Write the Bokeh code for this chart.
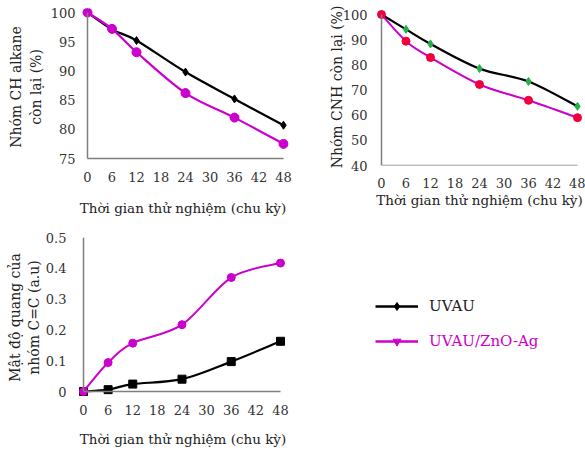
import numpy as np
from bokeh.plotting import figure
from bokeh.models import Range1d, FixedTicker, Legend, LegendItem, Arrow
from bokeh.layouts import column, row
from bokeh.embed import file_html
from bokeh.resources import INLINE

cycles = [0, 6, 12, 24, 36, 48]
x_ticks = [0, 6, 12, 18, 24, 30, 36, 42, 48]

ch_uvau = [100, 97.1, 95.2, 89.8, 85.2, 80.7]
ch_zno = [100, 97.2, 93.2, 86.2, 82.0, 77.5]
cnh_uvau = [100, 94.1, 88.3, 78.5, 73.4, 63.5]
cnh_zno = [100, 89.4, 82.9, 72.2, 65.9, 59.0]
cc_uvau = [0, 0.006, 0.024, 0.040, 0.097, 0.163]
cc_zno = [0, 0.094, 0.157, 0.217, 0.370, 0.417]

ch_ticks = [75, 80, 85, 90, 95, 100]
cnh_ticks = [40, 50, 60, 70, 80, 90, 100]
cc_ticks = [0, 0.1, 0.2, 0.3, 0.4, 0.5]
cc_tick_labels = ["0", "0.1", "0.2", "0.3", "0.4", "0.5"]

series_names = ["UVAU", "UVAU/ZnO-Ag"]
x_title = "Thời gian thử nghiệm (chu kỳ)"

FONT = "DejaVu Serif"
MAGENTA = "#CC00CC"
BLACK = "#000000"
AXIS = "#7f7f7f"

W1, W2 = 292, 293
H1, H2 = 222, 229


def smooth(x, y):
    x = np.asarray(x, float)
    y = np.asarray(y, float)
    px = np.concatenate([[x[0]], x, [x[-1]]])
    py = np.concatenate([[y[0]], y, [y[-1]]])
    s = dict(x0=[], y0=[], x1=[], y1=[], cx0=[], cy0=[], cx1=[], cy1=[])
    for i in range(len(x) - 1):
        s["x0"].append(px[i + 1]); s["y0"].append(py[i + 1])
        s["x1"].append(px[i + 2]); s["y1"].append(py[i + 2])
        s["cx0"].append(px[i + 1] + (px[i + 2] - px[i]) / 6)
        s["cy0"].append(py[i + 1] + (py[i + 2] - py[i]) / 6)
        s["cx1"].append(px[i + 2] - (px[i + 3] - px[i + 1]) / 6)
        s["cy1"].append(py[i + 2] - (py[i + 3] - py[i + 1]) / 6)
    return s


def make_fig(w, h, ax_left, ax_top, ax_w, ax_h, pads, yticks, ylabel,
             x_std, xt_std, y_std, yt_std):
    pl, pr, pt, pb = pads
    xlo, xhi = x_ticks[0], x_ticks[-1]
    ylo, yhi = yticks[0], yticks[-1]
    ux = (xhi - xlo) / ax_w
    uy = (yhi - ylo) / ax_h
    left = ax_left - pl
    top = ax_top - pt
    fw = ax_w + pl + pr
    fh = ax_h + pt + pb
    p = figure(width=w, height=h, output_backend="svg", toolbar_location=None,
               x_range=Range1d(xlo - pl * ux, xhi + pr * ux),
               y_range=Range1d(ylo - pb * uy, yhi + pt * uy),
               min_border_left=left, min_border_top=top,
               min_border_right=w - left - fw, min_border_bottom=h - top - fh)
    p.frame_width = fw
    p.frame_height = fh
    p.outline_line_color = None
    p.grid.visible = False
    p.xaxis.ticker = FixedTicker(ticks=x_ticks)
    p.yaxis.ticker = FixedTicker(ticks=yticks)
    for ax in (p.xaxis[0], p.yaxis[0]):
        ax.axis_line_color = None
        ax.major_tick_line_color = None
        ax.minor_tick_line_color = None
        ax.major_label_text_font = FONT
        ax.major_label_text_font_size = "13px"
        ax.major_label_text_color = "#333333"
        ax.axis_label_text_font = FONT
        ax.axis_label_text_font_size = "14px"
        ax.axis_label_text_font_style = "normal"
        ax.axis_label_text_color = "#222222"
    p.xaxis.axis_label_text_font_size = "13.5px"
    p.xaxis.axis_label = x_title
    p.yaxis.axis_label = ylabel
    p.xaxis.major_label_standoff = x_std
    p.xaxis.axis_label_standoff = xt_std
    p.yaxis.major_label_standoff = y_std
    p.yaxis.axis_label_standoff = yt_std
    p.add_layout(Arrow(x_start=xlo, y_start=ylo, x_end=xlo, y_end=yhi,
                       start=None, end=None, line_color=AXIS, line_width=1.5))
    p.add_layout(Arrow(x_start=xlo, y_start=ylo, x_end=xhi, y_end=ylo,
                       start=None, end=None, line_color=AXIS, line_width=1.5))
    return p


def add_series(p, y, color, lw, marker, msize, mcolor):
    s = smooth(cycles, y)
    p.bezier(x0=s["x0"], y0=s["y0"], x1=s["x1"], y1=s["y1"],
             cx0=s["cx0"], cy0=s["cy0"], cx1=s["cx1"], cy1=s["cy1"],
             line_color=color, line_width=lw)
    p.scatter(cycles, y, marker=marker, size=msize, fill_color=mcolor,
              line_color=mcolor)


# Chart 1 (CH alkane)
p1 = make_fig(W1, H1, 87, 12, 196, 146, (10, 5, 4, 7), ch_ticks,
              "Nhóm CH alkane\ncòn lại (%)",
              x_std=0, xt_std=15, y_std=-4, yt_std=4)
add_series(p1, ch_uvau, BLACK, 2.2, "diamond", 8, BLACK)
add_series(p1, ch_zno, MAGENTA, 2.2, "circle", 9, MAGENTA)

# Chart 2 (CNH)
p2 = make_fig(W2, H1, 89, 14, 196, 151, (6, 6, 6, 0), cnh_ticks,
              "Nhóm CNH còn lại (%)",
              x_std=6, xt_std=1, y_std=2, yt_std=-5)
add_series(p2, cnh_uvau, BLACK, 2.2, "diamond", 8, "#22B04B")
add_series(p2, cnh_zno, MAGENTA, 2.0, "circle", 8, "#F0003C")

# Chart 3 (C=C)
p3 = make_fig(W1, H2, 83, 15, 197, 154, (6, 8, 0, 6), cc_ticks,
              "Mật độ quang của\nnhóm C=C (a.u)",
              x_std=1, xt_std=13, y_std=5, yt_std=1)
p3.yaxis.major_label_overrides = dict(zip(cc_ticks, cc_tick_labels))
add_series(p3, cc_uvau, BLACK, 2.2, "square", 8, BLACK)
add_series(p3, cc_zno, MAGENTA, 2.0, "circle", 8, MAGENTA)

# Legend panel (its renderers lie outside the visible ranges)
p4 = figure(width=W2, height=H2, output_backend="svg", toolbar_location=None,
            x_range=Range1d(100, 101), y_range=Range1d(100, 101),
            x_axis_type=None, y_axis_type=None,
            min_border_left=83, min_border_right=2,
            min_border_top=15, min_border_bottom=54)
p4.frame_width = 208
p4.frame_height = 160
p4.outline_line_color = None
p4.grid.visible = False
l_black = p4.line(cycles, cc_uvau, line_color=BLACK, line_width=2.5)
m_black = p4.scatter(cycles, cc_uvau, marker="diamond", size=8, color=BLACK)
l_mag = p4.line(cycles, cc_zno, line_color=MAGENTA, line_width=2.5)
m_mag = p4.scatter(cycles, cc_zno, marker="inverted_triangle", size=6, color=MAGENTA)

leg1 = Legend(items=[LegendItem(label=series_names[0], renderers=[l_black, m_black])],
              location=(0, 81))
leg2 = Legend(items=[LegendItem(label=series_names[1], renderers=[l_mag, m_mag])],
              location=(0, 46))
for lg, c in ((leg1, "#222222"), (leg2, MAGENTA)):
    lg.border_line_color = None
    lg.background_fill_alpha = 0
    lg.padding = 0
    lg.margin = 0
    lg.glyph_width = 43
    lg.glyph_height = 20
    lg.label_standoff = 11
    lg.label_text_font = FONT
    lg.label_text_font_size = "15px"
    lg.label_text_color = c
    p4.add_layout(lg, "center")

layout = column(row(p1, p2), row(p3, p4))
open("out.html", "w").write(file_html(layout, INLINE))
